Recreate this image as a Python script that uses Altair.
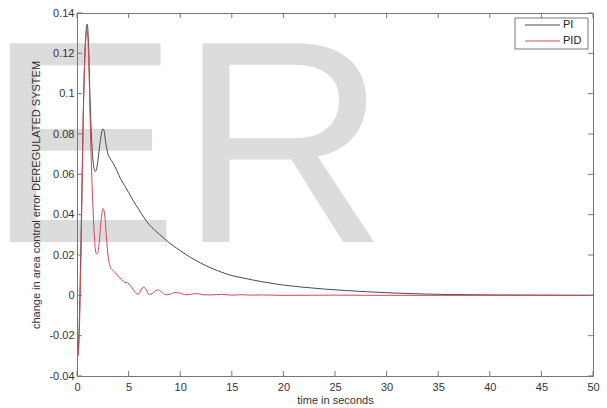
import altair as alt
import pandas as pd

# ---- data ----
series_names = ["PI", "PID"]
series_colors = ["#4a4a4a", "#cc4a55"]

pi_t = [0, 0.1, 0.2, 0.3, 0.45, 0.6, 0.75, 0.9, 1.0, 1.1, 1.25, 1.4, 1.55, 1.7, 1.8,
        1.95, 2.1, 2.3, 2.5, 2.6, 2.75, 2.95, 3.2, 3.5, 3.85, 4.2, 4.6, 5.0, 5.5, 6.0,
        6.5, 7.0, 7.5, 8.0, 9.0, 10, 11, 12, 13, 14, 15, 16, 18, 20, 22,
        24, 26, 28, 30, 32, 34, 36, 38, 40, 45, 50]
pi_v = [0, -0.028, -0.018, 0.005, 0.045, 0.088, 0.118, 0.132, 0.1345, 0.127,
        0.1, 0.079, 0.067, 0.062, 0.0615, 0.064, 0.07, 0.078, 0.0825, 0.082,
        0.077, 0.071, 0.068, 0.0655, 0.062, 0.058, 0.0545, 0.051, 0.0465, 0.0425,
        0.0385, 0.035, 0.0325, 0.0302, 0.0258, 0.0222, 0.0188, 0.016, 0.0135, 0.0115,
        0.0098, 0.0087, 0.0067, 0.0051, 0.004, 0.0031, 0.0024, 0.0018, 0.0013, 0.0009,
        0.0006, 0.0004, 0.0003, 0.0002, 0.0001, 0.0]

pid_t = [0, 0.1, 0.2, 0.35, 0.5, 0.62, 0.78, 0.9, 0.97, 1.05, 1.15, 1.25, 1.4, 1.55, 1.7,
         1.8, 1.9, 2.0, 2.15, 2.3, 2.45, 2.55, 2.7, 2.85, 3.0, 3.2, 3.45, 3.7, 4.0, 4.3,
         4.6, 4.9, 5.2, 5.5, 5.8, 6.0, 6.2, 6.45, 6.7, 7.0, 7.3, 7.6, 7.9, 8.2, 8.6,
         9.0, 9.5, 10.0, 10.5, 11.0, 11.6, 12.2, 13, 14, 15, 16, 17, 18, 20, 25,
         30, 35, 40, 45, 50]
pid_v = [0, -0.030, -0.022, 0.01, 0.055, 0.092, 0.12, 0.13, 0.132, 0.128,
         0.115, 0.092, 0.064, 0.043, 0.028, 0.022, 0.0205, 0.021, 0.026, 0.035,
         0.042, 0.043, 0.039, 0.029, 0.02, 0.0145, 0.0125, 0.0112, 0.0095, 0.0078,
         0.0066, 0.0062, 0.0047, 0.0026, 0.0007, 0.0008, 0.0026, 0.0042, 0.0028, 0.0004,
         0.0009, 0.0022, 0.0027, 0.0016, 0.0003, 0.0005, 0.0014, 0.0011, 0.0003, 0.0005,
         0.0009, 0.0003, 0.0002, 0.0005, 0.0001, 0.0003, 0.0001, 0.0002, 0.0, 0.0001,
         0.0, 0.0, 0.0, 0.0, 0.0]

x_ticks = [0, 5, 10, 15, 20, 25, 30, 35, 40, 45, 50]
y_ticks = [-0.04, -0.02, 0, 0.02, 0.04, 0.06, 0.08, 0.1, 0.12, 0.14]

x_title = "time in seconds"
y_title = "change in area control error DEREGULATED SYSTEM"
watermark = "ER"

# ---- build tables ----
df = pd.concat([
    pd.DataFrame({"t": pi_t, "v": pi_v, "series": "PI"}),
    pd.DataFrame({"t": pid_t, "v": pid_v, "series": "PID"}),
], ignore_index=True)
xt_df = pd.DataFrame({"t": x_ticks})
yt_df = pd.DataFrame({"v": y_ticks})

W, H = 516, 363
FONT = "Liberation Sans"
FRAME = "#777777"

xscale = alt.Scale(domain=[0, 50], nice=False, zero=False)
yscale = alt.Scale(domain=[-0.04, 0.14], nice=False, zero=False)
cscale = alt.Scale(domain=series_names, range=series_colors)

x_axis = alt.Axis(values=x_ticks, title=x_title, grid=False, ticks=False, tickSize=0,
                  domainColor=FRAME, labelFlush=False, labelOverlap=False,
                  labelBaseline="alphabetic", labelPadding=14,
                  titleY=27, titleBaseline="alphabetic", zindex=1)
y_axis = alt.Axis(values=y_ticks, title=y_title, grid=False, ticks=False, tickSize=0,
                  domainColor=FRAME, labelFlush=False, labelOverlap=False,
                  labelPadding=3,
                  labelExpr="replace(format(datum.value, '.2~f'), '\u2212', '-')",
                  titleAngle=270, titleX=-41, titleY=H / 2, titleAlign="center",
                  titleBaseline="middle", zindex=1)

X = alt.X("t:Q", scale=xscale, axis=x_axis)
Y = alt.Y("v:Q", scale=yscale, axis=y_axis)

wm = alt.Chart(pd.DataFrame({"w": [watermark]})).mark_text(
    font=FONT, fontSize=289, color="#dcdcdc", align="left", baseline="alphabetic"
).encode(text="w:N", x=alt.value(-91), y=alt.value(229))

lines = alt.Chart(df).mark_line(strokeWidth=1, clip=True, interpolate="monotone").encode(
    x=X, y=Y,
    color=alt.Color("series:N", scale=cscale, legend=None),
    order="t:Q",
)

tick_color = FRAME
xt_bottom = alt.Chart(xt_df).mark_rule(color=tick_color).encode(
    x=X, y=alt.value(H), y2=alt.value(H - 5))
xt_top = alt.Chart(xt_df).mark_rule(color=tick_color).encode(
    x=X, y=alt.value(0), y2=alt.value(5))
yt_left = alt.Chart(yt_df).mark_rule(color=tick_color).encode(
    y=Y, x=alt.value(0), x2=alt.value(5))
yt_right = alt.Chart(yt_df).mark_rule(color=tick_color).encode(
    y=Y, x=alt.value(W), x2=alt.value(W - 5))

# legend (drawn by hand, MATLAB style)
leg_box = alt.Chart(pd.DataFrame({"a": [0]})).mark_rect(
    fill="white", stroke=FRAME, strokeWidth=1
).encode(x=alt.value(438), x2=alt.value(511), y=alt.value(5), y2=alt.value(36))

leg_layers = []
for i, name in enumerate(series_names):
    ly = 12 + 16 * i
    d = pd.DataFrame({"series": [name]})
    leg_layers.append(alt.Chart(d).mark_rule(strokeWidth=1).encode(
        x=alt.value(448), x2=alt.value(483), y=alt.value(ly),
        color=alt.Color("series:N", scale=cscale, legend=None)))
    leg_layers.append(alt.Chart(d).mark_text(
        font=FONT, fontSize=11, color="#222222", align="left", baseline="middle"
    ).encode(x=alt.value(486), y=alt.value(ly), text="series:N"))

chart = alt.layer(
    wm, lines, xt_bottom, xt_top, yt_left, yt_right, leg_box, *leg_layers
).properties(
    width=W, height=H,
    autosize=alt.AutoSizeParams(type="none"),
    padding={"left": 77, "top": 13, "right": 14, "bottom": 32},
    background="white",
).configure_view(
    stroke=FRAME, strokeWidth=1
).configure_axis(
    labelFont=FONT, labelFontSize=11, labelColor="#333333",
    titleFont=FONT, titleFontSize=11, titleColor="#333333", titleFontWeight="normal",
)

chart.save("out.html", embed_options={"renderer": "svg", "actions": False})
